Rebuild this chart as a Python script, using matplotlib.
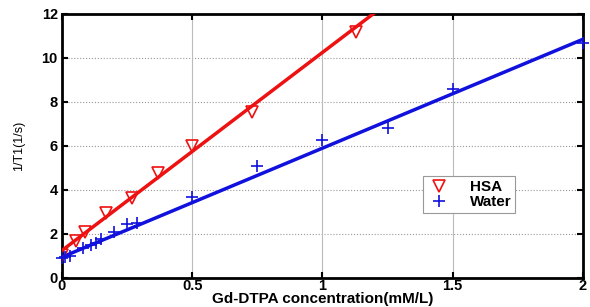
import numpy as np
import matplotlib
matplotlib.use('Agg')
import matplotlib.pyplot as plt

plt.rcParams['font.family'] = ['Liberation Sans', 'DejaVu Sans']

hsa_conc = [0.0, 0.054, 0.088, 0.17, 0.27, 0.37, 0.5, 0.73, 1.13]
hsa_r1 = [1.05, 1.7, 2.1, 2.95, 3.65, 4.75, 6.0, 7.55, 11.2]

water_conc = [0.0, 0.01, 0.03, 0.08, 0.11, 0.13, 0.15, 0.2, 0.25, 0.29,
              0.5, 0.75, 1.0, 1.25, 1.5, 2.0]
water_r1 = [0.9, 0.95, 1.0, 1.35, 1.5, 1.6, 1.75, 2.1, 2.45, 2.5,
            3.7, 5.1, 6.25, 6.8, 8.6, 10.7]

# fitted lines as drawn in the figure (slope, intercept)
hsa_fit = [9.0, 1.25]
water_fit = [4.95, 0.95]

xticks = [0, 0.5, 1, 1.5, 2]
xticklabels = ['0', '0.5', '1', '1.5', '2']
yticks = [0, 2, 4, 6, 8, 10, 12]

fig = plt.figure(figsize=(5.9, 3.07), dpi=100)
ax = fig.add_axes([0.105, 0.0945, 0.883, 0.86])

xs = np.linspace(0, 2, 50)
ax.plot(xs, np.polyval(hsa_fit, xs), color='#ee1111', lw=2.5, zorder=3)
ax.plot(xs, np.polyval(water_fit, xs), color='#1111dd', lw=2.5, zorder=3)

ax.plot(hsa_conc, hsa_r1, linestyle='none', marker='v', ms=9, mfc='none',
        mec='#ee1111', mew=1.2, label='HSA', zorder=4)
ax.plot(water_conc, water_r1, linestyle='none', marker='+', ms=9,
        mec='#1111dd', mew=1.2, label='Water', zorder=4, clip_on=False)

ax.set_xlim(0, 2)
ax.set_ylim(0, 12)
ax.set_xticks(xticks)
ax.set_xticklabels(xticklabels)
ax.set_yticks(yticks)

for y in yticks[1:-1]:
    ax.axhline(y, color='#999999', lw=0.8, ls=':', zorder=1)
for x in xticks[1:-1]:
    ax.axvline(x, color='#bbbbbb', lw=0.8, zorder=1)

for s in ax.spines.values():
    s.set_linewidth(2)
ax.tick_params(direction='in', width=1.5, length=4, top=True, right=True,
               labelsize=10.5)
ax.tick_params(axis='x', pad=1)
ax.tick_params(axis='y', pad=3)
for lab in ax.get_xticklabels() + ax.get_yticklabels():
    lab.set_fontweight('bold')

fig.text(0.5 * (0.105 + 0.988), 0.003, 'Gd-DTPA concentration(mM/L)',
         fontsize=11, fontweight='bold', ha='center', va='bottom')
ax.set_ylabel('1/T1(1/s)', fontsize=9, labelpad=12)

leg = ax.legend(loc='upper left', bbox_to_anchor=(0.693, 0.385),
                prop={'weight': 'bold', 'size': 11}, fancybox=False,
                framealpha=1, edgecolor='#999999', handlelength=1.6,
                borderpad=0.25, labelspacing=0.05, handletextpad=1.2,
                borderaxespad=0)
leg.get_frame().set_linewidth(0.8)

fig.savefig('out.png', dpi=100)
